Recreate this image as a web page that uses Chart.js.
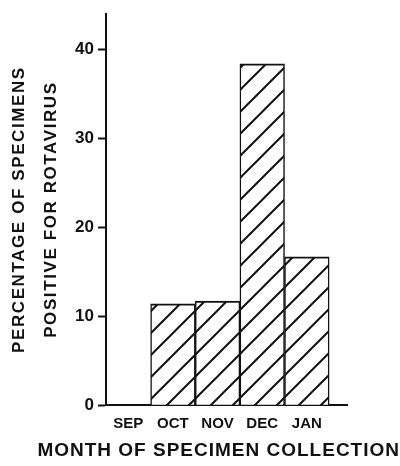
<!DOCTYPE html>
<html>
<head>
<meta charset="utf-8">
<script src="https://cdn.jsdelivr.net/npm/chart.js@4"></script>
<style>
  html, body { margin: 0; padding: 0; background: #fff; }
  canvas { display: block; }
</style>
</head>
<body>
<canvas id="c" width="400" height="466"></canvas>
<script>
// ---- data ----
const months = ['SEP', 'OCT', 'NOV', 'DEC', 'JAN'];
const percentPositive = [0, 11.4, 11.7, 38.4, 16.7];
const yTicks = [0, 10, 20, 30, 40];
const yTitleLines = ['PERCENTAGE OF SPECIMENS', 'POSITIVE FOR ROTAVIRUS'];
const xTitle = 'MONTH OF SPECIMEN COLLECTION';

const INK = '#111';
Chart.defaults.font.family = "'Liberation Sans', Arial, sans-serif";
Chart.defaults.color = INK;

function hatchPattern() {
  const s = 22;
  const c = document.createElement('canvas');
  c.width = s; c.height = s;
  const g = c.getContext('2d');
  g.fillStyle = '#fff';
  g.fillRect(0, 0, s, s);
  g.strokeStyle = INK;
  g.lineWidth = 2;
  g.beginPath();
  g.moveTo(-3, s + 3); g.lineTo(s + 3, -3);
  g.moveTo(-3, 3); g.lineTo(3, -3);
  g.moveTo(s - 3, s + 3); g.lineTo(s + 3, s - 3);
  g.stroke();
  return g.createPattern(c, 'repeat');
}

const spacing = { y: '1.6px', title: '1px' };
const spacingPlugin = {
  id: 'letterSpacingPatch',
  afterLayout(chart) {
    Object.values(chart.scales).forEach(s => {
      if (s._spPatched) return;
      const orig = s.drawTitle;
      s.drawTitle = function () {
        const ctx = this.ctx;
        const prev = ctx.letterSpacing;
        ctx.letterSpacing = spacing[this.id] || '0px';
        orig.call(this);
        ctx.letterSpacing = prev;
      };
      s._spPatched = true;
    });
    const tb = chart.titleBlock;
    if (tb && !tb._spPatched) {
      const origT = tb.draw;
      tb.draw = function () {
        const ctx = this.ctx;
        const prev = ctx.letterSpacing;
        ctx.letterSpacing = spacing.title;
        origT.apply(this, arguments);
        ctx.letterSpacing = prev;
      };
      tb._spPatched = true;
    }
  }
};

new Chart(document.getElementById('c'), {
  type: 'bar',
  data: {
    datasets: [{
      data: months.map((m, i) => ({ x: i + 0.5, y: percentPositive[i] })),
      backgroundColor: hatchPattern(),
      borderColor: INK,
      borderWidth: { left: 1.5, right: 1.5, top: 2, bottom: 0 },
      borderSkipped: false,
      barPercentage: 1,
      categoryPercentage: 1
    }]
  },
  options: {
    responsive: false,
    animation: false,
    devicePixelRatio: 1,
    layout: { padding: 0 },
    plugins: {
      legend: { display: false },
      tooltip: { enabled: false },
      title: {
        display: true,
        position: 'bottom',
        align: 'end',
        text: xTitle,
        color: INK,
        font: { size: 19, weight: 'bold', lineHeight: 1.2 },
        padding: { top: 0, bottom: 4 }
      }
    },
    scales: {
      x: {
        type: 'linear',
        offset: false,
        min: 0,
        max: 5.4,
        grid: { display: false, drawTicks: false, offset: false },
        border: { display: true, color: INK, width: 2 },
        afterBuildTicks(scale) { scale.ticks = months.map((m, i) => ({ value: i + 0.5 })); },
        afterFit(scale) { scale.height = 34; scale.paddingRight = 53; },
        ticks: {
          autoSkip: false,
          maxRotation: 0,
          padding: 10,
          color: INK,
          font: { size: 15, weight: 'bold' },
          callback: (v) => months[Math.floor(v)]
        }
      },
      y: {
        min: 0,
        max: 44,
        afterBuildTicks(scale) { scale.ticks = yTicks.map(v => ({ value: v })); },
        afterFit(scale) { scale.width = 106; scale.paddingTop = 14; },
        grid: { display: true, drawOnChartArea: false, drawTicks: true, tickLength: 8, tickColor: INK, tickWidth: 2, color: INK },
        border: { display: true, color: INK, width: 2 },
        ticks: { padding: 4, color: INK, font: { size: 17, weight: 'bold' } },
        title: {
          display: true,
          text: yTitleLines,
          color: INK,
          font: { size: 17, weight: 'bold', lineHeight: '32.5px' },
          padding: { top: 3, bottom: 0 }
        }
      }
    }
  },
  plugins: [spacingPlugin]
});
</script>
</body>
</html>
